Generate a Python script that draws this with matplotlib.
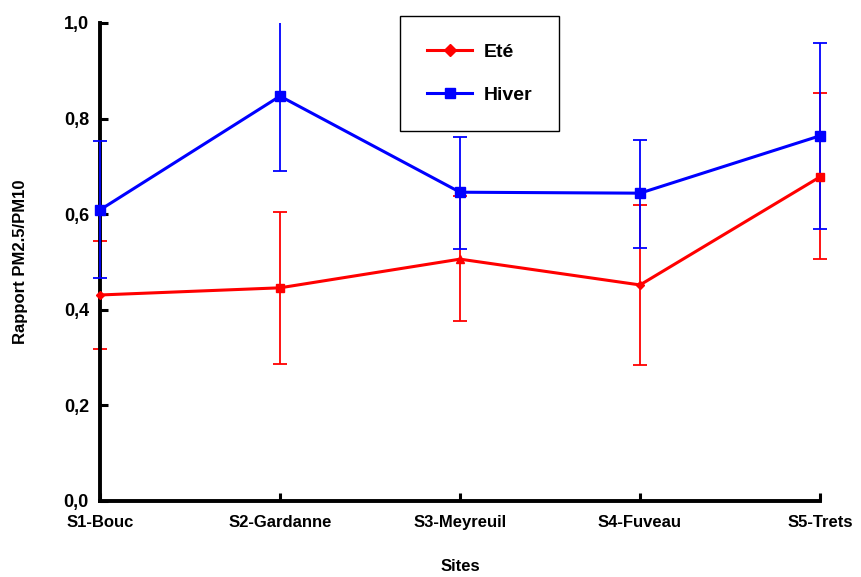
import numpy as np
import matplotlib
matplotlib.use("Agg")
import matplotlib.pyplot as plt
from matplotlib.lines import Line2D

plt.rcParams['font.family'] = ['Liberation Sans', 'DejaVu Sans']
plt.rcParams['font.weight'] = 'bold'

sites = ["S1-Bouc", "S2-Gardanne", "S3-Meyreuil", "S4-Fuveau", "S5-Trets"]

ete = [0.431, 0.446, 0.506, 0.452, 0.678]
ete_hi = [0.544, 0.605, 0.638, 0.619, 0.854]
ete_lo = [0.318, 0.287, 0.377, 0.285, 0.506]
ete_markers = ["D", "s", "^", "D", "s"]

hiver = [0.609, 0.847, 0.646, 0.644, 0.764]
hiver_hi = [0.753, 1.0, 0.762, 0.755, 0.958]
hiver_lo = [0.467, 0.690, 0.527, 0.529, 0.569]

yticks = [0.0, 0.2, 0.4, 0.6, 0.8, 1.0]

W, H = 862, 577
fig = plt.figure(figsize=(W / 100, H / 100), dpi=100)
ax = fig.add_axes([100 / W, 1 - 501 / H, 720 / W, 478 / H])

x = np.arange(len(sites))
red = "#ff0000"
blue = "#0000ff"

ete = np.array(ete)
hiver = np.array(hiver)

e1 = ax.errorbar(x, ete, yerr=[ete - np.array(ete_lo), np.array(ete_hi) - ete],
                 fmt="none", ecolor=red, elinewidth=1.3, capsize=5, capthick=1.3, zorder=2)
e2 = ax.errorbar(x, hiver, yerr=[hiver - np.array(hiver_lo), np.array(hiver_hi) - hiver],
                 fmt="none", ecolor=blue, elinewidth=1.3, capsize=5, capthick=1.3, zorder=3)
for eb in (e1, e2):
    for art in eb.lines[1] + eb.lines[2]:
        art.set_clip_on(False)
# blue S2 bar runs up to the frame top, no cap drawn there
e2.lines[1][1].set_markevery([0, 2, 3, 4])

ax.plot(x, ete, color=red, lw=2.2, zorder=4, clip_on=False)
for xi, yi, m in zip(x, ete, ete_markers):
    ax.plot(xi, yi, marker=m, color=red, ms=6 if m != "D" else 4.5, zorder=5, clip_on=False)
ax.plot(x, hiver, color=blue, lw=2.2, marker="s", ms=7, zorder=6, clip_on=False)

ax.set_xlim(0, 4)
ax.set_ylim(0, 1.0)
ax.set_xticks(x)
ax.set_xticklabels(sites, fontsize=12, fontweight="bold")
ax.set_yticks(yticks)
ax.set_yticklabels([f"{v:.1f}".replace(".", ",") for v in yticks], fontsize=13, fontweight="bold")
ax.tick_params(axis="both", direction="in", length=6, width=2.2, color="black")
ax.tick_params(axis="x", pad=10)
ax.tick_params(axis="y", pad=8)

for s in ["top", "right"]:
    ax.spines[s].set_visible(False)
for s in ["left", "bottom"]:
    ax.spines[s].set_linewidth(2.8)

ax.set_ylabel("Rapport PM2.5/PM10", fontsize=12, fontweight="bold", labelpad=26)
ax.set_xlabel("Sites", fontsize=12, fontweight="bold", labelpad=21)

handles = [
    Line2D([], [], color=red, lw=2.2, marker="D", ms=6),
    Line2D([], [], color=blue, lw=2.2, marker="s", ms=7),
]
leg = fig.legend(handles, ["Eté", "Hiver"], loc="upper left",
                 bbox_to_anchor=(400 / W, 1 - 16 / H), fontsize=14,
                 fancybox=False, edgecolor="black", framealpha=1,
                 borderpad=1.4, labelspacing=1.3, handlelength=2.3,
                 handletextpad=0.6, borderaxespad=0)
leg.get_frame().set_linewidth(1.0)
for t in leg.get_texts():
    t.set_fontweight("bold")

fig.savefig("out.png", dpi=100)
